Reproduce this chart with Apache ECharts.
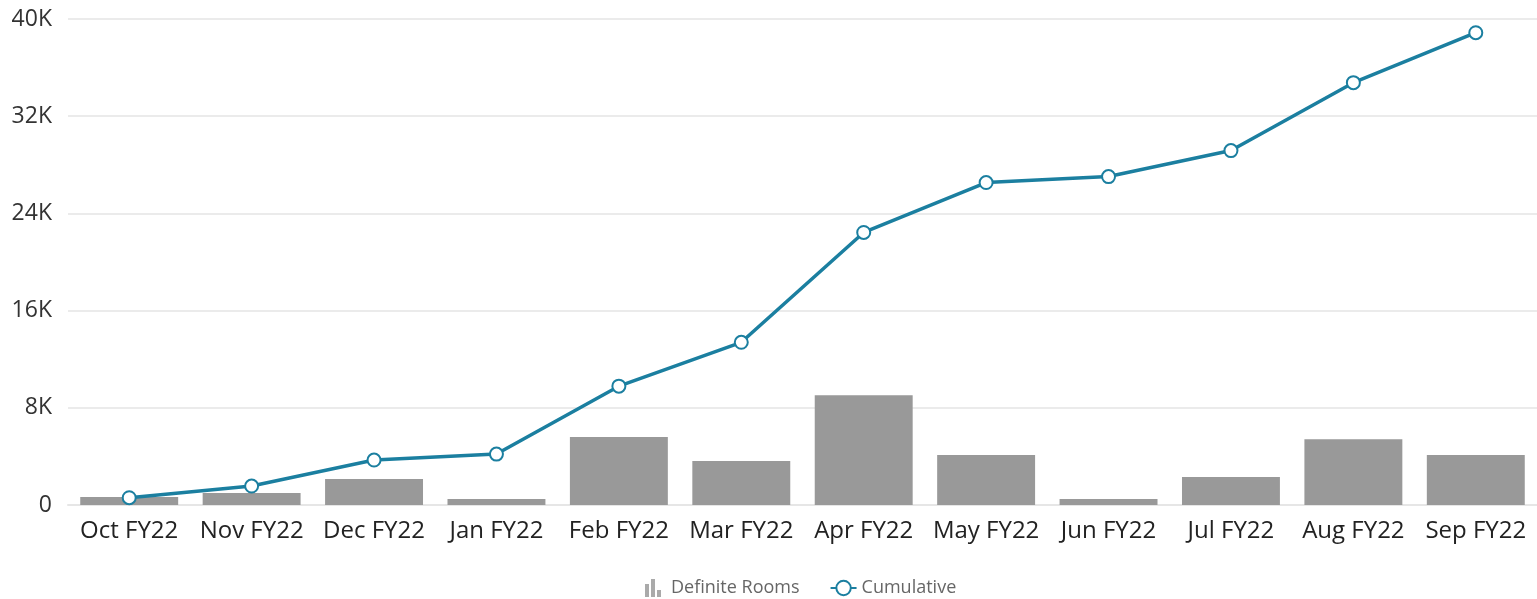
<!DOCTYPE html>
<html><head><meta charset="utf-8">
<script src="https://cdn.jsdelivr.net/npm/echarts@6/dist/echarts.min.js"></script>
<style>html,body{margin:0;padding:0;background:#fff}#c{width:1537px;height:599px}</style>
</head><body><div id="c"></div>
<script>
var categories = ['Oct FY22','Nov FY22','Dec FY22','Jan FY22','Feb FY22','Mar FY22','Apr FY22','May FY22','Jun FY22','Jul FY22','Aug FY22','Sep FY22'];
var definiteRooms = [650, 990, 2140, 490, 5590, 3620, 9040, 4110, 490, 2300, 5420, 4110];
var cumulative = [600, 1560, 3700, 4190, 9780, 13390, 22430, 26540, 27030, 29170, 34760, 38870];
var yTicks = [0, 8000, 16000, 24000, 32000, 40000];

var chart = echarts.init(document.getElementById('c'));
chart.setOption({
  animation: false,
  textStyle: { fontFamily: 'Open Sans' },
  grid: { left: 68, right: 0, top: 19, bottom: 94 },
  legend: {
    top: 574, left: 640, itemGap: 30, itemWidth: 26, itemHeight: 18,
    textStyle: { color: '#666', fontSize: 18, fontFamily: 'Open Sans' },
    data: [
      { name: 'Definite Rooms', icon: 'path://M0,5 h4 v13 h-4z M6,0 h4 v18 h-4z M12,11 h4 v7 h-4z', itemStyle: { color: '#aaaaaa' } },
      { name: 'Cumulative' }
    ]
  },
  xAxis: {
    type: 'category', data: categories,
    axisLine: { lineStyle: { color: '#e6e6e6', width: 2 } },
    axisTick: { show: false },
    axisLabel: { color: '#222', fontSize: 24, margin: 14, interval: 0 }
  },
  yAxis: {
    type: 'value', min: yTicks[0], max: yTicks[yTicks.length - 1], interval: 8000,
    axisLabel: { color: '#333', fontSize: 23, margin: 16, formatter: function (v) { return v === 0 ? '0' : (v / 1000) + 'K'; } },
    splitLine: { lineStyle: { color: '#ebebeb', width: 2 } },
    axisLine: { show: false }, axisTick: { show: false }
  },
  series: [
    { name: 'Definite Rooms', type: 'bar', data: definiteRooms, barCategoryGap: '20%', itemStyle: { color: '#999999' } },
    { name: 'Cumulative', type: 'line', data: cumulative, symbol: 'circle', symbolSize: 13,
      lineStyle: { color: '#1b7fa0', width: 3.5 },
      itemStyle: { color: '#ffffff', borderColor: '#1b7fa0', borderWidth: 2 } }
  ]
});
</script></body></html>
